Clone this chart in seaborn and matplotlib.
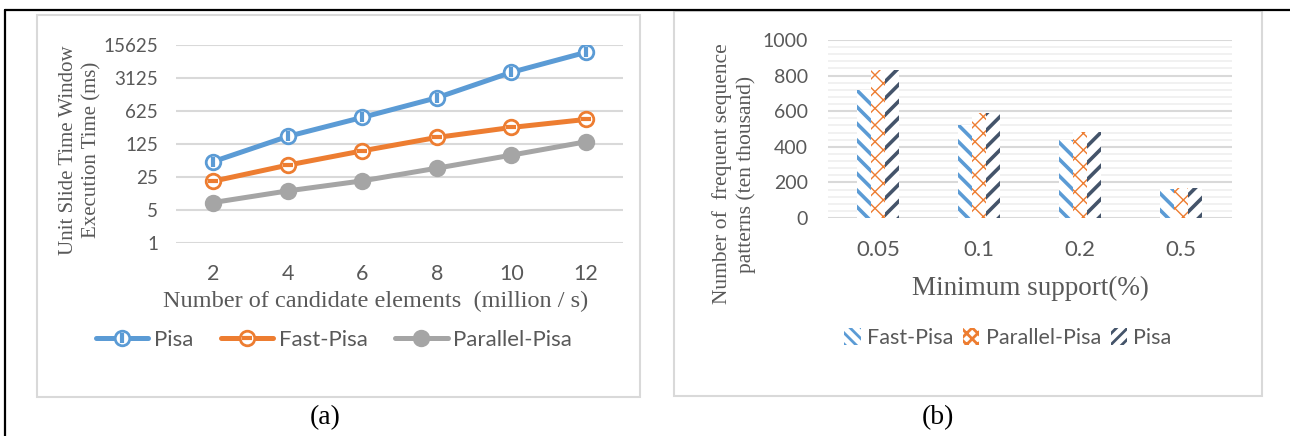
import matplotlib
matplotlib.use("Agg")
import matplotlib.pyplot as plt
from matplotlib.lines import Line2D
from matplotlib.patches import Patch, Rectangle
from matplotlib.legend_handler import HandlerTuple
from matplotlib.ticker import FixedLocator, MultipleLocator, NullLocator
import pandas as pd
import seaborn as sns

# ---- data -------------------------------------------------------------
sizes = ["2", "4", "6", "8", "10", "12"]               # million candidate elements / s
pisa_ms = [53, 181, 457, 1190, 4120, 10900]
fast_pisa_ms = [20.4, 44.6, 89.5, 172, 280, 414]
parallel_pisa_ms = [7.2, 12.7, 20.7, 38.4, 72.5, 139]
time_ticks = [1, 5, 25, 125, 625, 3125, 15625]

supports = ["0.05", "0.1", "0.2", "0.5"]               # minimum support (%)
fast_pisa_cnt = [720, 521, 441, 164]
parallel_pisa_cnt = [829, 592, 482, 168]
pisa_cnt = [829, 592, 482, 168]
count_ticks = [0, 200, 400, 600, 800, 1000]

# ---- style ------------------------------------------------------------
sns.set_theme(style="white")
plt.rcParams["font.family"] = ["Lato", "DejaVu Sans"]
plt.rcParams["hatch.linewidth"] = 2.0

SERIF = ["Liberation Serif", "DejaVu Serif"]
BLUE, ORANGE, GRAY, NAVY = "#5B9BD5", "#ED7D31", "#A5A5A5", "#44546A"
TXT = "#595959"
GRID = "#D9D9D9"

W, H = 1290, 436
fig = plt.figure(figsize=(W / 100, H / 100), dpi=100)
fig.patch.set_facecolor("white")


def fx(px):
    return px / W


def fy(py):
    return 1 - py / H


# page frame and panel boxes
fig.add_artist(Line2D([fx(5), 1], [fy(10), fy(10)], color="black", lw=1.6,
                      transform=fig.transFigure))
fig.add_artist(Line2D([fx(5), fx(5)], [fy(10), 0], color="black", lw=1.6,
                      transform=fig.transFigure))
for x0, y0, x1, y1 in [(37, 15, 640, 397), (674, 11, 1262, 396)]:
    fig.add_artist(Rectangle((fx(x0), fy(y1)), fx(x1) - fx(x0), fy(y0) - fy(y1),
                             transform=fig.transFigure, fill=False,
                             edgecolor=GRID, lw=1.5))

# ---- (a) execution time (log base 5) ----------------------------------
axa = fig.add_axes([fx(176), fy(243), fx(623) - fx(176), fy(45) - fy(243)])

series = [
    ("Parallel-Pisa", parallel_pisa_ms, GRAY, GRAY, None),
    ("Fast-Pisa", fast_pisa_ms, ORANGE, "white", "_"),
    ("Pisa", pisa_ms, BLUE, "white", "|"),
]
handles = {}
for name, vals, col, face, inner in series:
    sns.lineplot(x=sizes, y=vals, ax=axa, color=col, lw=3.6, marker="o",
                 markersize=10.5, markerfacecolor=face, markeredgecolor=col,
                 markeredgewidth=2, sort=False, zorder=3)
    line_h = Line2D([], [], color=col, lw=3.6, marker="o", markersize=10.5,
                    markerfacecolor=face, markeredgecolor=col, markeredgewidth=2)
    if inner is not None:
        sns.scatterplot(x=sizes, y=vals, ax=axa, marker=inner, s=60,
                        color=col, edgecolor=col, linewidth=3, zorder=4)
        mark_h = Line2D([], [], ls="", marker=inner, markersize=7.8,
                        color=col, markeredgewidth=3)
        handles[name] = (line_h, mark_h)
    else:
        handles[name] = line_h

axa.set_yscale("log", base=5)
axa.set_ylim(1, 15625)
axa.set_xlim(-0.5, 5.5)
axa.yaxis.set_major_locator(FixedLocator(time_ticks))
axa.yaxis.set_minor_locator(NullLocator())
axa.set_yticklabels([str(t) for t in time_ticks])
axa.grid(axis="y", color=GRID, lw=1.5)
axa.set_axisbelow(True)
for s in axa.spines.values():
    s.set_visible(False)
axa.tick_params(axis="y", length=0, pad=13, labelsize=13.5, labelcolor=TXT)
axa.tick_params(axis="x", length=0, pad=15, labelsize=15.5, labelcolor=TXT)
axa.set_xlabel("")
axa.set_ylabel("")

fig.text(fx(376), fy(301), "Number of candidate elements  (million / s)",
         ha="center", va="center", fontsize=17.5, color=TXT, family=SERIF)
fig.text(fx(80), fy(150), "Unit Slide Time Window\nExecution Time (ms)",
         ha="center", va="center", rotation=90, fontsize=15, color=TXT,
         family=SERIF, linespacing=1.3)

order = ["Pisa", "Fast-Pisa", "Parallel-Pisa"]
fig.legend([handles[n] for n in order], order,
           handler_map={tuple: HandlerTuple(ndivide=1)},
           loc="center", bbox_to_anchor=(fx(334), fy(340)), ncol=3,
           frameon=False, fontsize=16, handlelength=2.35, handletextpad=0.25,
           columnspacing=1.25, labelcolor=TXT)

fig.text(fx(325), fy(418), "(a)", ha="center", va="center", fontsize=20,
         color="black", family=SERIF)

# ---- (b) frequent sequence patterns ------------------------------------
axb = fig.add_axes([fx(827.5), fy(218), fx(1231.5) - fx(827.5), fy(40) - fy(218)])

algos = ["Fast-Pisa", "Parallel-Pisa", "Pisa"]
df_b = pd.DataFrame({
    "support": supports * 3,
    "count": fast_pisa_cnt + parallel_pisa_cnt + pisa_cnt,
    "algo": [a for a in algos for _ in supports],
})
bar_cols = [BLUE, ORANGE, NAVY]
hatches = ["\\\\", "xx", "//"]
hatch_lw = [2.6, 1.0, 2.6]
sns.barplot(data=df_b, x="support", y="count", hue="algo", hue_order=algos,
            palette=bar_cols, width=0.42, saturation=1, legend=False, ax=axb,
            zorder=3)
for cont, col, hat, hlw in zip(axb.containers, bar_cols, hatches, hatch_lw):
    for bar in cont:
        bar.set_facecolor("white")
        bar.set_edgecolor(col)
        bar.set_linewidth(0)
        bar.set_hatch(hat)
        if hasattr(bar, "set_hatch_linewidth"):
            bar.set_hatch_linewidth(hlw)

axb.set_ylim(0, 1000)
axb.set_xlim(-0.5, 3.5)
axb.yaxis.set_major_locator(FixedLocator(count_ticks))
axb.yaxis.set_minor_locator(MultipleLocator(40))
axb.grid(axis="y", which="major", color=GRID, lw=1.5)
axb.grid(axis="y", which="minor", color="#EFEFEF", lw=1.2)
axb.set_axisbelow(True)
for s in axb.spines.values():
    s.set_visible(False)
axb.tick_params(axis="y", which="both", length=0, pad=14, labelsize=14,
                labelcolor=TXT)
axb.tick_params(axis="x", length=0, pad=16, labelsize=16, labelcolor=TXT)
axb.set_xlabel("")
axb.set_ylabel("")

fig.text(fx(1030), fy(288), "Minimum support(%)", ha="center", va="center",
         fontsize=19.5, color=TXT, family=SERIF)
fig.text(fx(734), fy(174), "Number of  frequent sequence\npatterns (ten thousand)",
         ha="center", va="center", rotation=90, fontsize=15.5, color=TXT,
         family=SERIF, linespacing=1.25)

patch_handles = []
for col, hat, hlw in zip(bar_cols, ["\\\\\\", "xxx", "///"], [2.4, 1.0, 2.4]):
    p = Patch(facecolor="white", edgecolor=col, hatch=hat, lw=0)
    if hasattr(p, "set_hatch_linewidth"):
        p.set_hatch_linewidth(hlw)
    patch_handles.append(p)
fig.legend(patch_handles, algos, loc="center", bbox_to_anchor=(fx(1008), fy(338)),
           ncol=3, frameon=False, fontsize=15.5, handlelength=0.75,
           handleheight=0.8, handletextpad=0.3, columnspacing=0.45,
           labelcolor=TXT)

fig.text(fx(938), fy(418), "(b)", ha="center", va="center", fontsize=20,
         color="black", family=SERIF)

fig.savefig("out.png", dpi=100, facecolor="white")
